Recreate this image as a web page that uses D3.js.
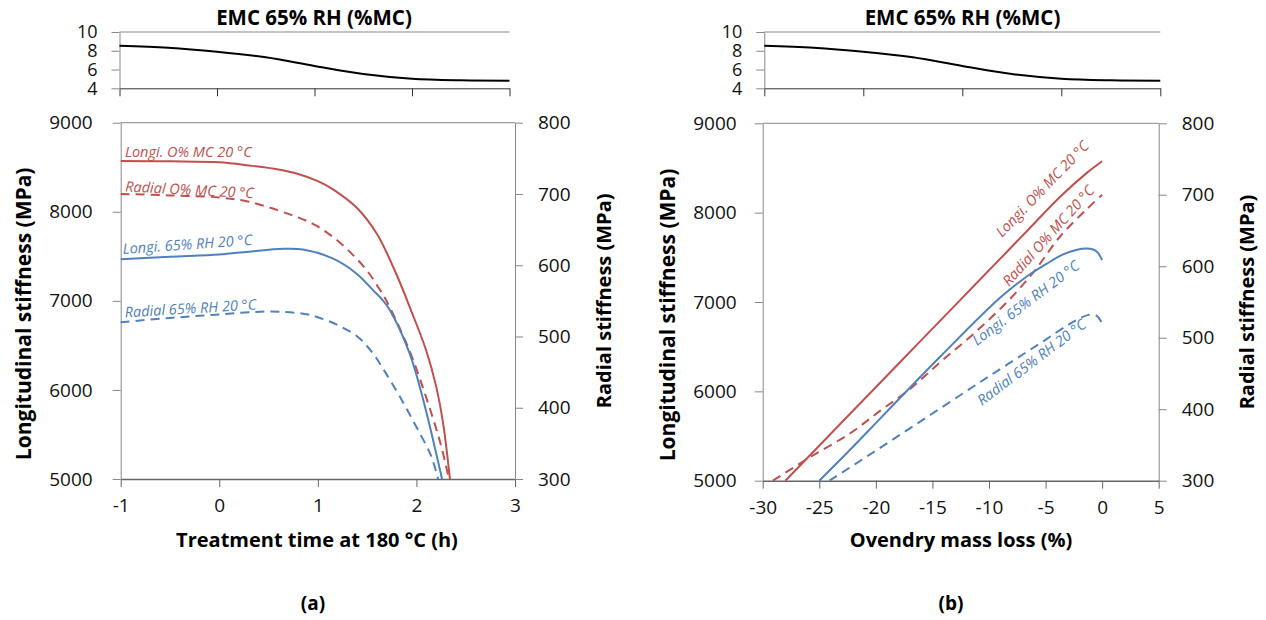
<!DOCTYPE html>
<html>
<head>
<meta charset="utf-8">
<script src="https://cdn.jsdelivr.net/npm/d3@7"></script>
<style>
  body { margin: 0; background: #fff; }
  text { font-family: "Open Sans", sans-serif; }
</style>
</head>
<body>
<svg width="1266" height="620"></svg>
<script>
// EMC strip on top of both panels (treatment time)
const emcTime = [-1, -0.5, 0, 0.5, 1, 1.5, 2, 2.5, 3];
const emcValue = [8.54, 8.33, 7.9, 7.3, 6.38, 5.52, 5.02, 4.85, 4.81];
const emcTicks = [4, 6, 8, 10];

// panel (a): stiffness vs treatment time at 180 °C
const timeLongiDry = [-1, -0.5, 0, 0.3, 0.6, 0.8, 1.0, 1.15, 1.4, 1.6, 1.8, 1.95, 2.1, 2.2, 2.27, 2.34];
const longiDryA = [8570, 8566, 8555, 8520, 8475, 8425, 8345, 8255, 8040, 7750, 7290, 6880, 6440, 6040, 5630, 5000];
const timeRadialDry = [-1, -0.5, 0, 0.3, 0.7, 0.95, 1.15, 1.33, 1.49, 1.6, 1.7, 1.93, 2.1, 2.24, 2.33];
const radialDryA = [700, 698, 695, 689, 672, 658, 640, 618, 594, 572, 549, 480, 414, 352, 300];
const timeLongiWet = [-1, -0.5, 0, 0.3, 0.65, 0.85, 1.15, 1.39, 1.56, 1.66, 1.73, 1.93, 2.07, 2.26];
const longiWetA = [7467, 7495, 7520, 7552, 7584, 7576, 7476, 7308, 7120, 7006, 6896, 6413, 5884, 5000];
const timeRadialWet = [-1, -0.5, 0, 0.5, 0.85, 1.0, 1.2, 1.4, 1.55, 1.66, 1.83, 2.0, 2.15, 2.22];
const radialWetA = [520, 526, 531, 535, 532, 527, 516, 500, 478, 455, 416, 373, 332, 300];

// panel (b): stiffness vs ovendry mass loss
const lossLongiDry = [-28.0, -25.2, -22.3, -19.9, -16.0, -12.55, -9.6, -6.66, -3.71, -1.35, 0];
const longiDryB = [5000, 5366, 5746, 6060, 6570, 7021, 7407, 7792, 8178, 8445, 8575];
const lossRadialDry = [-29.1, -25.7, -22.3, -19.6, -17.0, -14.3, -11.4, -8.4, -6.0, -3.7, -1.35, 0];
const radialDryB = [300, 334, 366, 398, 428, 466, 505, 550, 593, 642, 680, 700];
const lossLongiWet = [-25.0, -22.3, -19.6, -14.3, -9.0, -6.5, -5.0, -3.5, -2.3, -1.4, -0.8, -0.4, 0];
const longiWetB = [5000, 5344, 5698, 6390, 7050, 7300, 7420, 7530, 7582, 7598, 7588, 7555, 7470];
const lossRadialWet = [-24.1, -20.2, -15.0, -10.0, -5.5, -3.1, -2.0, -1.2, -0.5, 0];
const radialWetB = [300, 340, 394, 446, 492, 517, 527, 532, 531, 520];

const leftTicks = [5000, 6000, 7000, 8000, 9000];
const rightTicks = [300, 400, 500, 600, 700, 800];
const timeTicks = [-1, 0, 1, 2, 3];
const lossTicks = [-30, -25, -20, -15, -10, -5, 0, 5];

const seriesNames = ["Longi. O% MC 20 °C", "Radial O% MC 20 °C", "Longi. 65% RH 20 °C", "Radial 65% RH 20 °C"];

const red = "#C0504D", blue = "#4F81BD", axisCol = "#878787";
const svg = d3.select("svg");
const plain = d => String(d);

function styleAxis(g, col, size) {
  g.select(".domain").attr("stroke", col);
  g.selectAll(".tick line").attr("stroke", col);
  g.selectAll(".tick text").attr("font-size", size || 19).attr("fill", "#111");
}

function drawStrip(x0, x1, cx) {
  const x = d3.scaleLinear().domain([-1, 3]).range([x0, x1]);
  const y = d3.scaleLinear().domain([4, 10]).range([88.3, 32]);
  svg.append("line").attr("x1", x0).attr("x2", x1)
    .attr("y1", y(10)).attr("y2", y(10)).attr("stroke", axisCol);
  svg.append("g").attr("transform", `translate(0,${y(4)})`)
    .call(d3.axisBottom(x).tickValues(timeTicks).tickSize(8).tickSizeOuter(0).tickFormat(""))
    .call(g => styleAxis(g, "#333"));
  svg.append("g").attr("transform", `translate(${x0},0)`)
    .call(d3.axisLeft(y).tickValues(emcTicks).tickFormat(plain).tickSize(8).tickSizeOuter(0).tickPadding(14))
    .call(g => styleAxis(g, axisCol, 18));
  svg.append("path")
    .datum(d3.zip(emcTime, emcValue))
    .attr("fill", "none").attr("stroke", "#000").attr("stroke-width", 2)
    .attr("d", d3.line().x(d => x(d[0])).y(d => y(d[1])).curve(d3.curveCatmullRom.alpha(0.5)));
  svg.append("text").attr("x", cx).attr("y", 25).attr("text-anchor", "middle")
    .attr("font-size", 20.5).attr("font-weight", "bold").text("EMC 65% RH (%MC)");
}

function drawMain(p) {
  const x = d3.scaleLinear().domain(p.xDomain).range([p.x0, p.x1]);
  const yL = d3.scaleLinear().domain([5000, 9000]).range([p.yb, p.yt]);
  const yR = d3.scaleLinear().domain([300, 800]).range([p.yb, p.yt]);

  svg.append("line").attr("x1", p.x0).attr("x2", p.x1)
    .attr("y1", p.yt).attr("y2", p.yt).attr("stroke", axisCol);
  svg.append("g").attr("transform", `translate(0,${p.yb})`)
    .call(d3.axisBottom(x).tickValues(p.xTicks).tickFormat(plain).tickSize(8).tickSizeOuter(0).tickPadding(12))
    .call(g => styleAxis(g, "#666"))
    .call(g => g.select(".domain").attr("stroke-width", 1.5));
  svg.append("g").attr("transform", `translate(${p.x0},0)`)
    .call(d3.axisLeft(yL).tickValues(leftTicks).tickFormat(plain).tickSize(8).tickSizeOuter(0).tickPadding(p.padL))
    .call(g => styleAxis(g, axisCol));
  svg.append("g").attr("transform", `translate(${p.x1},0)`)
    .call(d3.axisRight(yR).tickValues(rightTicks).tickFormat(plain).tickSize(8).tickSizeOuter(0).tickPadding(15))
    .call(g => styleAxis(g, axisCol));

  const line = sc => d3.line().x(d => x(d[0])).y(d => sc(d[1])).curve(d3.curveCatmullRom.alpha(0.5));
  p.series.forEach((s, i) => {
    const sc = s.right ? yR : yL;
    svg.append("path")
      .datum(d3.zip(s.xs, s.ys))
      .attr("fill", "none")
      .attr("stroke", s.color)
      .attr("stroke-width", 2)
      .attr("stroke-dasharray", s.right ? "9,6" : null)
      .attr("d", line(sc));
    const lb = p.labels[i];
    svg.append("text")
      .attr("transform", `translate(${lb[0]},${lb[1]}) rotate(${lb[2] || 0})`)
      .attr("font-size", 14.5).attr("font-style", "italic")
      .attr("fill", s.color).text(seriesNames[i]);
  });

  svg.append("text")
    .attr("transform", `translate(${p.titleL},${(p.yt + p.yb) / 2 + 13}) rotate(-90)`)
    .attr("text-anchor", "middle").attr("dominant-baseline", "central")
    .attr("font-size", 21).attr("font-weight", "bold").text("Longitudinal stiffness (MPa)");
  svg.append("text")
    .attr("transform", `translate(${p.titleR},${(p.yt + p.yb) / 2}) rotate(-90)`)
    .attr("text-anchor", "middle").attr("dominant-baseline", "central")
    .attr("font-size", 20).attr("font-weight", "bold").text("Radial stiffness (MPa)");
  svg.append("text").attr("x", p.xTitleX).attr("y", 547).attr("text-anchor", "middle")
    .attr("font-size", 20).attr("font-weight", "bold").text(p.xTitle);
  svg.append("text").attr("x", p.tagX).attr("y", 610).attr("text-anchor", "middle")
    .attr("font-size", 19).attr("font-weight", "bold").text(p.tag);
}

drawStrip(119.5, 509.5, 314);
drawStrip(764.3, 1160.3, 962.5);

drawMain({
  xDomain: [-1, 3], xTicks: timeTicks, x0: 120.7, x1: 515, yt: 122.7, yb: 479, padL: 20,
  titleL: 23, titleR: 603, xTitleX: 317, xTitle: "Treatment time at 180 °C (h)", tagX: 313, tag: "(a)",
  series: [
    { xs: timeLongiDry, ys: longiDryA, color: red, right: false },
    { xs: timeRadialDry, ys: radialDryA, color: red, right: true },
    { xs: timeLongiWet, ys: longiWetA, color: blue, right: false },
    { xs: timeRadialWet, ys: radialWetA, color: blue, right: true }
  ],
  labels: [[125, 157, 0], [125, 191.5, 3], [123, 254, -4], [125, 317.5, -3.5]]
});

drawMain({
  xDomain: [-30, 5], xTicks: lossTicks, x0: 762.7, x1: 1158.7, yt: 123.3, yb: 480.7, padL: 18,
  titleL: 667, titleR: 1246, xTitleX: 961, xTitle: "Ovendry mass loss (%)", tagX: 951, tag: "(b)",
  series: [
    { xs: lossLongiDry, ys: longiDryB, color: red, right: false },
    { xs: lossRadialDry, ys: radialDryB, color: red, right: true },
    { xs: lossLongiWet, ys: longiWetB, color: blue, right: false },
    { xs: lossRadialWet, ys: radialWetB, color: blue, right: true }
  ],
  labels: [[1002, 238, -46], [1009, 287, -48], [977, 346, -37], [982, 406, -37]]
});
</script>
</body>
</html>
